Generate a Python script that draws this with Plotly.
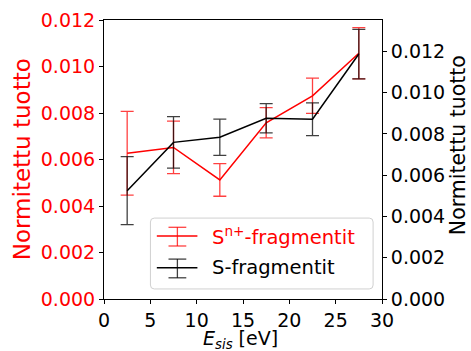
import plotly.graph_objects as go

x = [2.5, 7.5, 12.5, 17.5, 22.5, 27.5]
red_y = [0.00627, 0.00652, 0.00512, 0.00758, 0.00874, 0.01057]
red_err = [0.0018, 0.00113, 0.0007, 0.00065, 0.00076, 0.0011]
black_y = [0.00525, 0.00759, 0.00784, 0.00876, 0.00871, 0.01187]
black_err = [0.00165, 0.00125, 0.00088, 0.00071, 0.00079, 0.0012]

ticks = [0, 0.002, 0.004, 0.006, 0.008, 0.010, 0.012]
xticks = [0, 5, 10, 15, 20, 25, 30]
names = ["S<sup>n+</sup>-fragmentit", "S-fragmentit"]
ytitle = "Normitettu tuotto"
xtitle = "<i>E</i><sub><i>sis</i></sub> [eV]"

F = "DejaVu Sans"
TS = 19
RED_ERR = "rgba(255,0,0,0.75)"
BLK_ERR = "rgba(0,0,0,0.75)"
fig = go.Figure()
fig.add_trace(go.Scatter(
    x=x, y=red_y, mode="lines", name=names[0],
    line=dict(color="red", width=1.5),
    error_y=dict(type="data", array=red_err, visible=True, color=RED_ERR, thickness=1.3, width=6.5),
    yaxis="y"))
fig.add_trace(go.Scatter(
    x=x, y=black_y, mode="lines", name=names[1],
    line=dict(color="black", width=1.5),
    error_y=dict(type="data", array=black_err, visible=True, color=BLK_ERR, thickness=1.3, width=6.5),
    yaxis="y2"))

shapes = []
annotations = []
# legend box (rounded)
bx0, bx1, by0, by1, rx, ry = 0.167, 0.968, 0.036, 0.290, 0.014, 0.014
path = (f"M {bx0+rx},{by0} L {bx1-rx},{by0} Q {bx1},{by0} {bx1},{by0+ry} "
        f"L {bx1},{by1-ry} Q {bx1},{by1} {bx1-rx},{by1} L {bx0+rx},{by1} "
        f"Q {bx0},{by1} {bx0},{by1-ry} L {bx0},{by0+ry} Q {bx0},{by0} {bx0+rx},{by0} Z")
shapes.append(dict(type="path", xref="paper", yref="paper", path=path,
                   line=dict(color="#d0d0d0", width=1), fillcolor="rgba(255,255,255,0.8)", layer="above"))
for yc, ylo, yhi, lc, ec, txtc, nm in [
        (0.226, 0.190, 0.257, "red", RED_ERR, "red", names[0]),
        (0.112, 0.076, 0.143, "black", BLK_ERR, "black", names[1])]:
    shapes.append(dict(type="line", xref="paper", yref="paper", x0=0.19, x1=0.336, y0=yc, y1=yc,
                       line=dict(color=lc, width=1.5), layer="above"))
    shapes.append(dict(type="line", xref="paper", yref="paper", x0=0.264, x1=0.264, y0=ylo, y1=yhi,
                       line=dict(color=ec, width=1.3), layer="above"))
    for yy in (ylo, yhi):
        shapes.append(dict(type="line", xref="paper", yref="paper", x0=0.232, x1=0.296, y0=yy, y1=yy,
                           line=dict(color=ec, width=1.3), layer="above"))
    annotations.append(dict(text=nm, xref="paper", yref="paper", x=0.383, y=yc, xanchor="left",
                            yanchor="middle", showarrow=False, font=dict(size=19.5, color=txtc, family=F)))

annotations.append(dict(text=xtitle, xref="paper", yref="paper", x=0.49, y=-0.144, xanchor="center",
                        yanchor="middle", showarrow=False, font=dict(size=19, color="black", family=F)))
annotations.append(dict(text=ytitle, xref="paper", yref="paper", x=-0.294, y=0.502, xanchor="center",
                        yanchor="middle", textangle=-90, showarrow=False,
                        font=dict(size=23, color="red", family=F)))
annotations.append(dict(text=ytitle, xref="paper", yref="paper", x=1.272, y=0.55, xanchor="center",
                        yanchor="middle", textangle=-90, showarrow=False,
                        font=dict(size=20.5, color="black", family=F)))

fig.update_layout(
    width=471, height=351,
    margin=dict(l=103.5, r=89, t=20, b=52, autoexpand=False),
    paper_bgcolor="white", plot_bgcolor="white",
    font=dict(family=F, size=TS, color="black"),
    showlegend=False,
    shapes=shapes, annotations=annotations,
    xaxis=dict(range=[0, 30], tickvals=xticks, ticks="outside", ticklen=4, tickcolor="black",
               showline=True, linecolor="black", mirror=True, showgrid=False, zeroline=False,
               automargin=False, tickfont=dict(size=TS)),
    yaxis=dict(range=[0, 0.012], tickvals=ticks, tickformat=".3f", ticks="outside", ticklen=4,
               tickcolor="black", showline=True, linecolor="black", showgrid=False, zeroline=False,
               automargin=False, tickfont=dict(color="red", size=TS)),
    yaxis2=dict(range=[0, 0.01352], tickvals=ticks, tickformat=".3f", ticks="outside", ticklen=4,
                tickcolor="black", showline=True, linecolor="black", showgrid=False, zeroline=False,
                overlaying="y", side="right", automargin=False,
                tickfont=dict(color="black", size=TS)),
)

fig.write_html("out.html", config={"displayModeBar": False},
               post_script="document.body.style.margin='0';document.body.style.overflow='hidden';")
